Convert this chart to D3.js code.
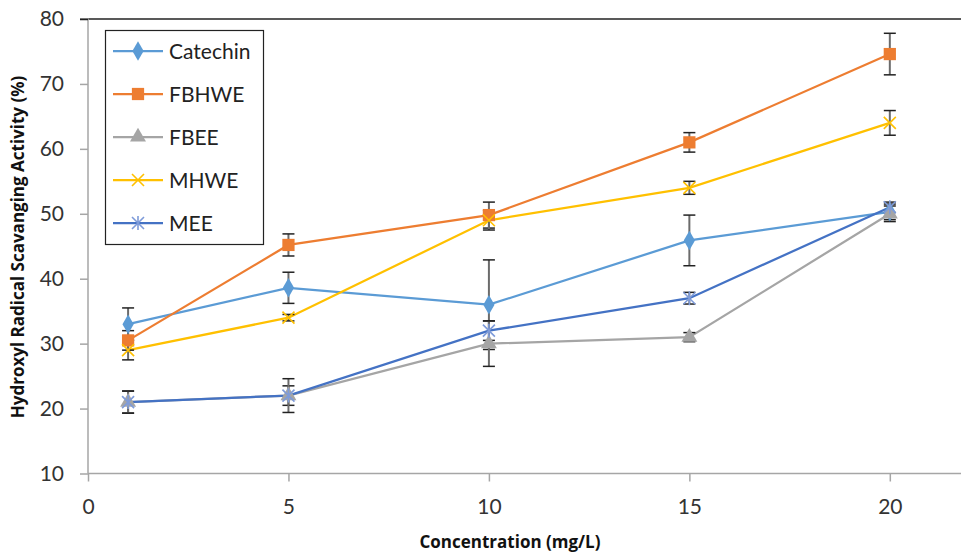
<!DOCTYPE html>
<html><head><meta charset="utf-8">
<script src="https://cdn.jsdelivr.net/npm/d3@7"></script>
<style>body{margin:0;background:#fff}svg{display:block}</style>
</head><body>
<svg id="c" width="961" height="552"></svg>
<script>
const concentrations = [1, 5, 10, 15, 20];
const seriesNames = ["Catechin", "FBHWE", "FBEE", "MHWE", "MEE"];
const catechin = [33, 38.6, 36, 45.9, 50.3];
const catechinErr = [2.5, 2.4, 6.9, 3.9, 1.2];
const fbhwe = [30.5, 45.2, 49.8, 61, 74.6];
const fbhweErr = [1.5, 1.7, 2.0, 1.5, 3.2];
const fbee = [21, 22, 30, 31, 50];
const fbeeErr = [1.7, 1.5, 3.5, 0.7, 1.2];
const mhwe = [29, 34, 49, 54, 64];
const mhweErr = [1.5, 0.5, 1.5, 1.0, 1.9];
const mee = [21, 22, 32, 37, 51];
const meeErr = [1.7, 2.6, 1.5, 0.9, 0.8];
const colors = ["#5B9BD5", "#ED7D31", "#A5A5A5", "#FFC000", "#4472C4"];
const markers = ["diamond", "square", "triangle", "x", "star"];
const xTicks = [0, 5, 10, 15, 20];
const yTicks = [10, 20, 30, 40, 50, 60, 70, 80];

const values = [catechin, fbhwe, fbee, mhwe, mee];
const errs = [catechinErr, fbhweErr, fbeeErr, mhweErr, meeErr];
const series = seriesNames.map((n, i) => ({name: n, color: colors[i], marker: markers[i],
  pts: concentrations.map((c, j) => ({x: c, y: values[i][j], e: errs[i][j]}))}));

const svg = d3.select("#c");
const x = d3.scaleLinear().domain([0, 22]).range([88, 970]);
const y = d3.scaleLinear().domain([10, 80]).range([473.5, 19]);
const font = "Lato, 'Open Sans', sans-serif";
const titleFont = "'Open Sans', 'Liberation Sans', sans-serif";

// top border line
svg.append("line").attr("x1", 80).attr("x2", 961).attr("y1", y(80)).attr("y2", y(80))
  .attr("stroke", "#222").attr("stroke-width", 1.5);

// axes
const yAxis = svg.append("g").attr("transform", `translate(${x(0)},0)`)
  .call(d3.axisLeft(y).tickValues(yTicks).tickSize(8).tickPadding(16));
const xAxis = svg.append("g").attr("transform", `translate(0,${y(10)})`)
  .call(d3.axisBottom(x).tickValues(xTicks).tickSize(8).tickPadding(18));
[yAxis, xAxis].forEach(g => {
  g.select(".domain").attr("stroke", "#a6a6a6").attr("stroke-width", 1.5);
  g.selectAll(".tick line").attr("stroke", "#a6a6a6").attr("stroke-width", 1.5);
  g.selectAll("text").attr("font-family", font).attr("font-size", 21).attr("fill", "#333");
});
yAxis.select(".domain").attr("d", `M-8,${y(80)}H0V${y(10)}`);
yAxis.selectAll(".tick").filter(d => d === 80).select("line").attr("stroke", "#222");
xAxis.select(".domain").attr("d", `M${x(0)},0H961`);

// lines
const line = d3.line().x(d => x(d.x)).y(d => y(d.y));
series.forEach(s => {
  svg.append("path").datum(s.pts).attr("d", line).attr("fill", "none")
    .attr("stroke", s.color).attr("stroke-width", 2.25);
});

// error bars
series.forEach(s => {
  const g = svg.append("g");
  s.pts.forEach(p => {
    g.append("line").attr("x1", x(p.x)).attr("x2", x(p.x)).attr("y1", y(p.y + p.e)).attr("y2", y(p.y - p.e))
      .attr("stroke", "#6b6b6b").attr("stroke-width", 2);
    [p.y + p.e, p.y - p.e].forEach(v => {
      g.append("line").attr("x1", x(p.x) - 6).attr("x2", x(p.x) + 6).attr("y1", y(v)).attr("y2", y(v))
        .attr("stroke", "#222").attr("stroke-width", 1.5);
    });
  });
});

function drawMarker(g, type, cx, cy, color) {
  if (type === "diamond") {
    g.append("path").attr("d", d3.symbol(d3.symbolDiamond, 110)()).attr("transform", `translate(${cx},${cy})`).attr("fill", color);
  } else if (type === "square") {
    g.append("path").attr("d", d3.symbol(d3.symbolSquare, 150)()).attr("transform", `translate(${cx},${cy})`).attr("fill", color);
  } else if (type === "triangle") {
    g.append("path").attr("d", d3.symbol(d3.symbolTriangle, 110)()).attr("transform", `translate(${cx},${cy})`).attr("fill", color);
  } else if (type === "x") {
    g.append("path").attr("d", "M-6,-6L6,6M-6,6L6,-6").attr("transform", `translate(${cx},${cy})`)
      .attr("stroke", color).attr("stroke-width", 1.6).attr("fill", "none");
  } else if (type === "star") {
    g.append("path").attr("d", "M-6,-6L6,6M-6,6L6,-6M0,-7L0,7").attr("transform", `translate(${cx},${cy})`)
      .attr("stroke", "#7E9BD9").attr("stroke-width", 1.6).attr("fill", "none");
  }
}
series.forEach(s => {
  const g = svg.append("g");
  s.pts.forEach(p => drawMarker(g, s.marker, x(p.x), y(p.y), s.color));
});

// axis titles
svg.append("text").attr("x", 510).attr("y", 548).attr("text-anchor", "middle")
  .attr("font-family", titleFont).attr("font-size", 17).attr("font-weight", "bold").attr("fill", "#111")
  .text("Concentration (mg/L)");
svg.append("text").attr("transform", "translate(24,247) rotate(-90)").attr("text-anchor", "middle")
  .attr("font-family", titleFont).attr("font-size", 17).attr("font-weight", "bold").attr("fill", "#111")
  .text("Hydroxyl Radical Scavanging Activity (%)");

// legend
const lg = svg.append("g");
lg.append("rect").attr("x", 105.5).attr("y", 30.5).attr("width", 158).attr("height", 214)
  .attr("fill", "#fff").attr("stroke", "#222").attr("stroke-width", 1.2);
series.forEach((s, i) => {
  const cy = 51 + i * 43;
  lg.append("line").attr("x1", 113).attr("x2", 163).attr("y1", cy).attr("y2", cy)
    .attr("stroke", s.color).attr("stroke-width", 2.25);
  drawMarker(lg, s.marker, 138, cy, s.color);
  lg.append("text").attr("x", 169).attr("y", cy).attr("dy", "0.36em")
    .attr("font-family", font).attr("font-size", 21).attr("fill", "#222").text(s.name);
});
</script>
</body></html>
